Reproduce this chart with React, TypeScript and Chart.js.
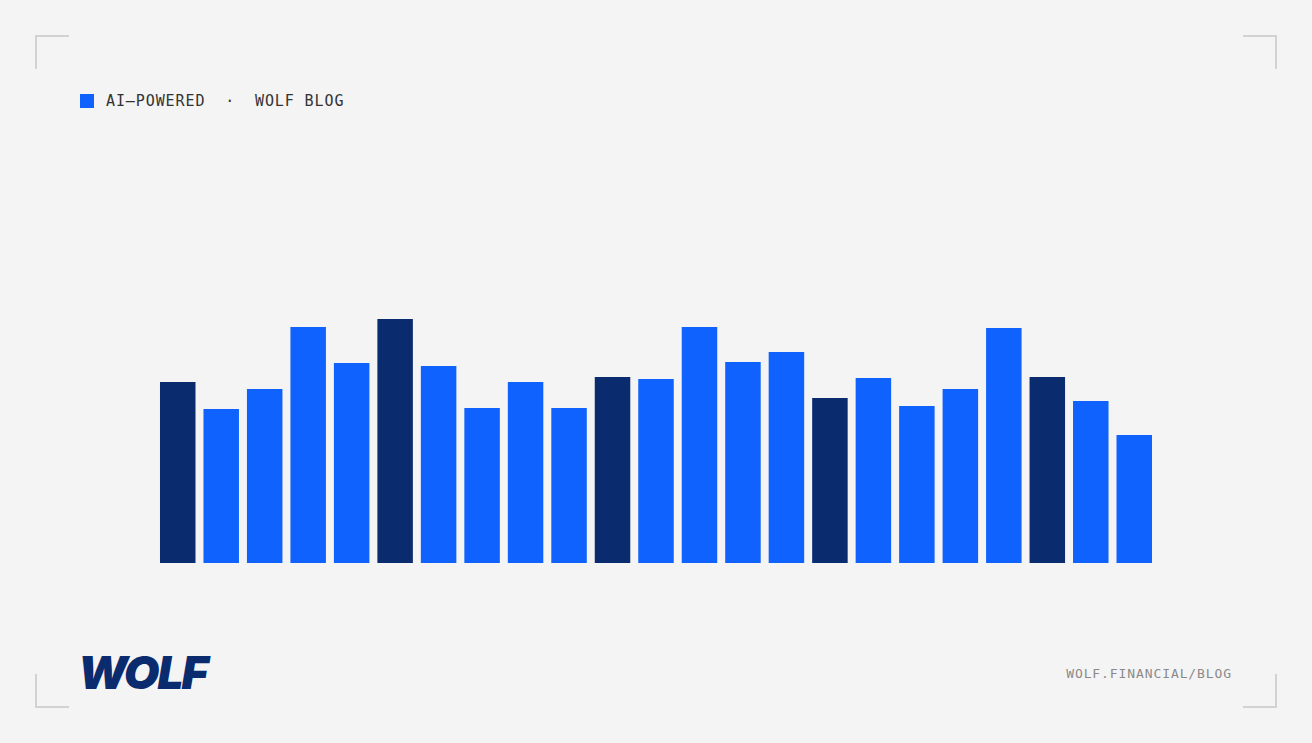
import React, { useEffect, useRef } from "react";
import { Chart, registerables } from "chart.js";

Chart.register(...registerables);

const categories = [
  "1", "2", "3", "4", "5", "6", "7", "8", "9", "10", "11", "12",
  "13", "14", "15", "16", "17", "18", "19", "20", "21", "22", "23",
];
const values = [
  181, 154, 174, 236, 200, 244, 197, 155, 181, 155, 186, 184,
  236, 201, 211, 165, 185, 157, 174, 235, 186, 162, 128,
];
const highlighted = [0, 5, 10, 15, 20];
const seriesLabel = "AI–POWERED";
const sourceLabel = "WOLF BLOG";
const footerLabel = "WOLF.FINANCIAL/BLOG";
const yMax = 320;

const BLUE = "#0f62fe";
const NAVY = "#0a2b6e";
const MONO = "'DejaVu Sans Mono', 'Liberation Mono', monospace";

function Corner({ style }: { style: React.CSSProperties }) {
  return (
    <div
      style={{
        position: "absolute",
        width: 34,
        height: 34,
        boxSizing: "border-box",
        borderColor: "#d2d2d2",
        borderStyle: "solid",
        borderWidth: 0,
        ...style,
      }}
    />
  );
}

export default function App() {
  const ref = useRef<HTMLCanvasElement | null>(null);

  useEffect(() => {
    if (!ref.current) return;
    const chart = new Chart(ref.current, {
      type: "bar",
      data: {
        labels: categories,
        datasets: [
          {
            label: seriesLabel,
            data: values,
            backgroundColor: values.map((_, i) =>
              highlighted.includes(i) ? NAVY : BLUE
            ),
            borderWidth: 0,
            barPercentage: 0.8165,
            categoryPercentage: 1,
          },
        ],
      },
      options: {
        animation: false,
        responsive: false,
        layout: { padding: 0 },
        plugins: {
          legend: { display: false },
          tooltip: { enabled: false },
        },
        scales: {
          x: { display: false },
          y: { display: false, min: 0, max: yMax },
        },
      },
    });
    return () => chart.destroy();
  }, []);

  return (
    <div
      style={{
        position: "fixed",
        left: 0,
        top: 0,
        width: 1312,
        height: 743,
        background: "#f4f4f4",
        overflow: "hidden",
      }}
    >
      <Corner style={{ left: 35, top: 35, borderLeftWidth: 2, borderTopWidth: 2 }} />
      <Corner style={{ right: 35, top: 35, borderRightWidth: 2, borderTopWidth: 2 }} />
      <Corner style={{ left: 35, bottom: 35, borderLeftWidth: 2, borderBottomWidth: 2 }} />
      <Corner style={{ right: 35, bottom: 35, borderRightWidth: 2, borderBottomWidth: 2 }} />

      <div
        style={{
          position: "absolute",
          left: 80,
          top: 91,
          height: 20,
          display: "flex",
          alignItems: "center",
          fontFamily: MONO,
          fontSize: 15,
          letterSpacing: "0.9px",
          color: "#333333",
          whiteSpace: "pre",
        }}
      >
        <span
          style={{
            display: "inline-block",
            width: 14,
            height: 14,
            background: BLUE,
            marginRight: 12,
          }}
        />
        <span>{seriesLabel + "  ·  " + sourceLabel}</span>
      </div>

      <canvas
        ref={ref}
        width={1000}
        height={yMax}
        style={{ position: "absolute", left: 156, top: 563 - yMax, width: 1000, height: yMax }}
      />

      <div
        style={{
          position: "absolute",
          left: 78,
          top: 645,
          fontFamily: "Inter, 'Liberation Sans', sans-serif",
          fontWeight: 900,
          fontStyle: "italic",
          fontSize: 46,
          letterSpacing: "-2px",
          color: NAVY,
          lineHeight: "54px",
        }}
      >
        WOLF
      </div>

      <div
        style={{
          position: "absolute",
          right: 80,
          top: 665,
          fontFamily: MONO,
          fontSize: 13,
          letterSpacing: "0.9px",
          color: "#8a8a8a",
          lineHeight: "18px",
        }}
      >
        {footerLabel}
      </div>
    </div>
  );
}
